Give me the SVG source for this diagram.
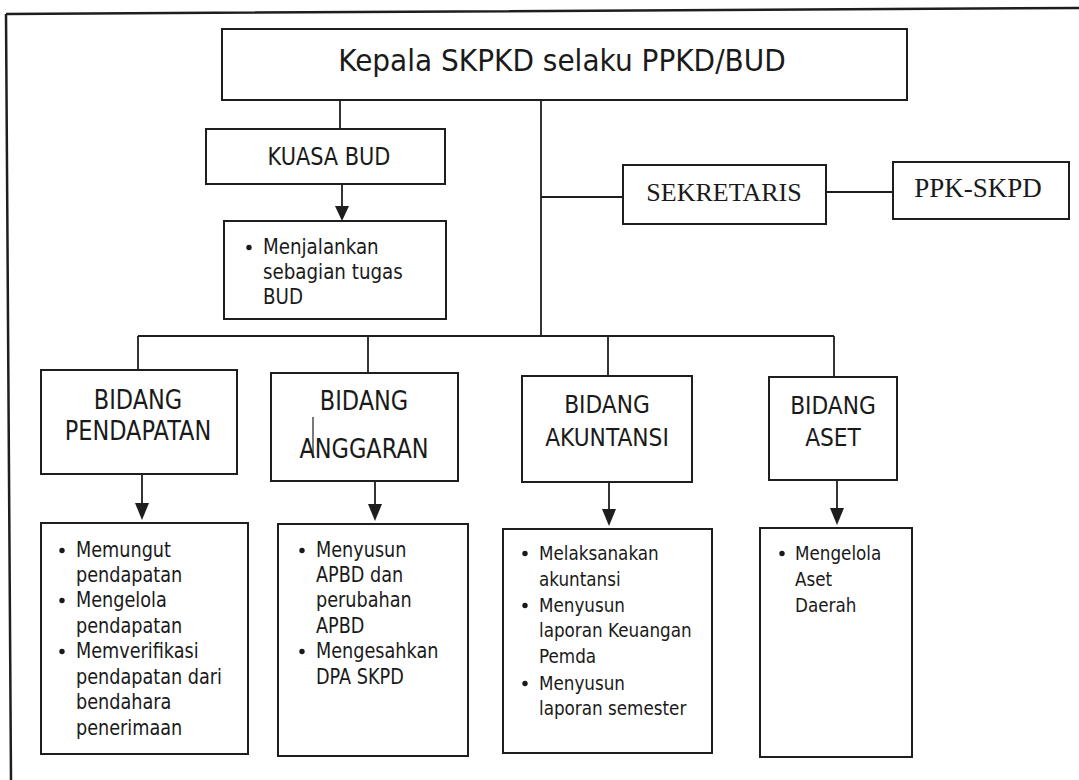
<svg xmlns="http://www.w3.org/2000/svg" width="1079" height="780" viewBox="0 0 1079 780">
  <style>
    .box { fill: #ffffff; stroke: #1e1e1e; stroke-width: 2; }
    .wire { fill: none; stroke: #1e1e1e; stroke-width: 1.8; }
    .head-tri { fill: #1e1e1e; }
    .frame { fill: none; stroke: #1e1e1e; stroke-width: 2.5; }
    .sans { font-family: "DejaVu Sans", Verdana, sans-serif; fill: #1a1a1a; }
    .serif { font-family: "Liberation Serif", "Times New Roman", serif; fill: #1a1a1a; }
    .mid { text-anchor: middle; }
    .dot { fill: #1a1a1a; }
  </style>

  <rect width="1079" height="780" fill="#ffffff"/>

  <!-- page border (top and left edges) -->
  <path class="frame" d="M6,14 L1079,8 M6,14 L11,780"/>

  <!-- connectors -->
  <g id="connectors">
    <path class="wire" d="M340,100 V129"/>
    <path class="wire" d="M541,100 V336"/>
    <path class="wire" d="M541,197 H623"/>
    <path class="wire" d="M826,192 H893"/>
    <path class="wire" d="M138,336 H834"/>
    <path class="wire" d="M138,336 V370"/>
    <path class="wire" d="M368,336 V373"/>
    <path class="wire" d="M608,336 V376"/>
    <path class="wire" d="M834,336 V377"/>
    <!-- downward arrows -->
    <path class="wire" d="M342,184 V208"/>
    <path class="head-tri" d="M335,206 L349,206 L342,221 Z"/>
    <path class="wire" d="M142,474 V505"/>
    <path class="head-tri" d="M135,503 L149,503 L142,520 Z"/>
    <path class="wire" d="M375,481 V506"/>
    <path class="head-tri" d="M368,504 L382,504 L375,521 Z"/>
    <path class="wire" d="M609,482 V511"/>
    <path class="head-tri" d="M602,509 L616,509 L609,526 Z"/>
    <path class="wire" d="M837,480 V510"/>
    <path class="head-tri" d="M830,508 L844,508 L837,525 Z"/>
  </g>

  <!-- Kepala SKPKD -->
  <g id="kepala">
    <rect class="box" x="222" y="29" width="685" height="71"/>
    <g transform="matrix(0.933 0 0 1 37.65 0)">
      <text class="sans mid" x="562" y="71" font-size="30">Kepala SKPKD selaku PPKD/BUD</text>
    </g>
  </g>

  <!-- Kuasa BUD -->
  <g id="kuasa-bud">
    <rect class="box" x="206" y="129" width="239" height="55"/>
    <g transform="matrix(0.87 0 0 1 42.77 0)">
      <text class="sans mid" x="329" y="165" font-size="24">KUASA BUD</text>
    </g>
  </g>

  <g id="kuasa-tugas">
    <rect class="box" x="224" y="221" width="222" height="98"/>
    <circle class="dot" cx="249" cy="247.5" r="2.7"/>
    <g transform="matrix(0.87 0 0 1 34.19 0)" class="sans" font-size="21">
      <text x="263" y="254">Menjalankan</text>
      <text x="263" y="279">sebagian tugas</text>
      <text x="263" y="304">BUD</text>
    </g>
  </g>

  <!-- Sekretaris -->
  <g id="sekretaris">
    <rect class="box" x="623" y="165" width="203" height="59"/>
    <text class="serif mid" x="724" y="201" font-size="26">SEKRETARIS</text>
  </g>

  <g id="ppk-skpd">
    <rect class="box" x="893" y="162" width="176" height="57"/>
    <text class="serif mid" x="978" y="197" font-size="27">PPK-SKPD</text>
  </g>

  <!-- Bidang Pendapatan -->
  <g id="bidang-pendapatan">
    <rect class="box" x="41" y="370" width="196" height="104"/>
    <g transform="matrix(0.87 0 0 1 17.94 0)" class="sans mid" font-size="25.8">
      <text x="138" y="409">BIDANG</text>
      <text x="138" y="440">PENDAPATAN</text>
    </g>
  </g>

  <g id="tugas-pendapatan">
    <rect class="box" x="41" y="523" width="207" height="231"/>
    <circle class="dot" cx="62" cy="550.5" r="2.7"/>
    <circle class="dot" cx="62" cy="600.5" r="2.7"/>
    <circle class="dot" cx="62" cy="651.5" r="2.7"/>
    <g transform="matrix(0.87 0 0 1 9.88 0)" class="sans" font-size="20.3">
      <text x="76" y="557">Memungut</text>
      <text x="76" y="582">pendapatan</text>
      <text x="76" y="607">Mengelola</text>
      <text x="76" y="633">pendapatan</text>
      <text x="76" y="658">Memverifikasi</text>
      <text x="76" y="684">pendapatan dari</text>
      <text x="76" y="709">bendahara</text>
      <text x="76" y="735">penerimaan</text>
    </g>
  </g>

  <!-- Bidang Anggaran -->
  <g id="bidang-anggaran">
    <rect class="box" x="271" y="373" width="187" height="108"/>
    <g transform="matrix(0.87 0 0 1 47.32 0)" class="sans mid" font-size="25.8">
      <text x="364" y="410">BIDANG</text>
      <text x="364" y="458">ANGGARAN</text>
    </g>
    <path d="M313,417 V458" stroke="#1e1e1e" stroke-width="1.2"/>
  </g>

  <g id="tugas-anggaran">
    <rect class="box" x="278" y="524" width="190" height="232"/>
    <circle class="dot" cx="302" cy="550.5" r="2.7"/>
    <circle class="dot" cx="302" cy="651.5" r="2.7"/>
    <g transform="matrix(0.87 0 0 1 41.08 0)" class="sans" font-size="20.3">
      <text x="316" y="557">Menyusun</text>
      <text x="316" y="582">APBD dan</text>
      <text x="316" y="607">perubahan</text>
      <text x="316" y="633">APBD</text>
      <text x="316" y="658">Mengesahkan</text>
      <text x="316" y="684">DPA SKPD</text>
    </g>
  </g>

  <!-- Bidang Akuntansi -->
  <g id="bidang-akuntansi">
    <rect class="box" x="522" y="376" width="170" height="106"/>
    <g transform="matrix(0.87 0 0 1 78.91 0)" class="sans mid" font-size="25">
      <text x="607" y="413">BIDANG</text>
      <text x="607" y="446">AKUNTANSI</text>
    </g>
  </g>

  <g id="tugas-akuntansi">
    <rect class="box" x="503" y="529" width="209" height="224"/>
    <circle class="dot" cx="525" cy="553.5" r="2.7"/>
    <circle class="dot" cx="525" cy="605.5" r="2.7"/>
    <circle class="dot" cx="525" cy="683.5" r="2.7"/>
    <g transform="matrix(0.87 0 0 1 70.07 0)" class="sans" font-size="19.3">
      <text x="539" y="560">Melaksanakan</text>
      <text x="539" y="586">akuntansi</text>
      <text x="539" y="612">Menyusun</text>
      <text x="539" y="637">laporan Keuangan</text>
      <text x="539" y="663">Pemda</text>
      <text x="539" y="690">Menyusun</text>
      <text x="539" y="715">laporan semester</text>
    </g>
  </g>

  <!-- Bidang Aset -->
  <g id="bidang-aset">
    <rect class="box" x="769" y="377" width="128" height="103"/>
    <g transform="matrix(0.87 0 0 1 108.29 0)" class="sans mid" font-size="25">
      <text x="833" y="414">BIDANG</text>
      <text x="833" y="446">ASET</text>
    </g>
  </g>

  <g id="tugas-aset">
    <rect class="box" x="760" y="528" width="152" height="229"/>
    <circle class="dot" cx="782" cy="553.5" r="2.7"/>
    <g transform="matrix(0.87 0 0 1 103.35 0)" class="sans" font-size="19.3">
      <text x="795" y="560">Mengelola</text>
      <text x="795" y="586">Aset</text>
      <text x="795" y="612">Daerah</text>
    </g>
  </g>
</svg>
